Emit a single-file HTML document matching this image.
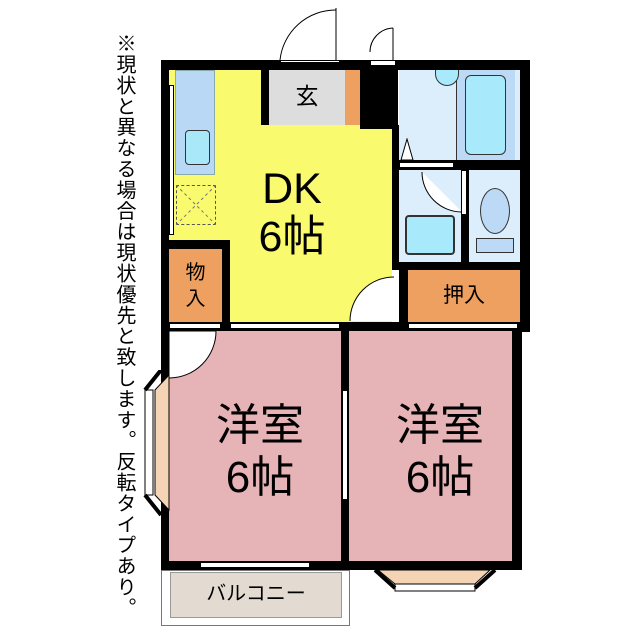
<!DOCTYPE html>
<html><head><meta charset="utf-8"><style>
body{margin:0;width:640px;height:640px;background:#fff;position:relative;overflow:hidden;font-family:"Liberation Sans","Noto Sans CJK JP",sans-serif}
div{position:absolute;box-sizing:border-box}
.b{background:#000}
.t{color:#000;text-align:center;line-height:1}
</style></head><body>
<div class="t" style="left:111px;top:33px;width:26px;height:590px;writing-mode:vertical-rl;font-size:20px;line-height:26px;letter-spacing:0.9px;text-align:left">※現状と異なる場合は現状優先と致します。反転タイプあり。</div>

<!-- outer walls -->
<div class="b" style="left:161px;top:60px;width:369px;height:10px"></div>
<div class="b" style="left:161px;top:60px;width:8px;height:510px"></div>
<div class="b" style="left:520px;top:60px;width:10px;height:272px"></div>
<div class="b" style="left:512px;top:320px;width:10px;height:250px"></div>
<div class="b" style="left:161px;top:561px;width:361px;height:9px"></div>

<!-- kitchen / DK -->
<div style="left:169px;top:70px;width:223px;height:253px;background:#fafa6e"></div>
<div style="left:169px;top:85px;width:5px;height:150px;background:#fff;border:1px solid #000"></div>
<div style="left:175px;top:70px;width:40px;height:105px;background:#b8d8f5;border:1px solid #8aa"></div>
<div style="left:185px;top:130px;width:25px;height:35px;background:#a8e8f8;border:1px solid #333;border-radius:4px"></div>
<div style="left:176px;top:185px;width:40px;height:40px;border:1px dashed #555"></div>
<svg style="position:absolute;left:176px;top:185px" width="40" height="40"><path d="M0 0L40 40M40 0L0 40" stroke="#777" stroke-dasharray="3 3"/></svg>
<div class="t" style="left:232px;top:168px;width:120px;font-size:43px">DK</div>
<div class="t" style="left:232px;top:216px;width:120px;font-size:43px">6帖</div>

<!-- genkan -->
<div class="b" style="left:261px;top:70px;width:8px;height:55px"></div>
<div style="left:269px;top:70px;width:76px;height:55px;background:#ddd"></div>
<div class="t" style="left:269px;top:85px;width:76px;font-size:23px">玄</div>
<div style="left:345px;top:70px;width:15px;height:55px;background:#eea060"></div>
<div class="b" style="left:360px;top:60px;width:38px;height:69px"></div>
<div class="b" style="left:392px;top:125px;width:7px;height:145px"></div>
<!-- doors top -->
<div style="left:280px;top:60px;width:60px;height:3px;background:#fff;border:1px solid #000"></div>
<svg style="position:absolute;left:278px;top:8px" width="120" height="56"><path d="M58 2A56 56 0 0 0 2 52" fill="none" stroke="#000"/><line x1="58" y1="0" x2="58" y2="52" stroke="#000"/><path d="M115 20A24 24 0 0 0 92 44" fill="none" stroke="#000"/><line x1="115" y1="20" x2="115" y2="52" stroke="#000"/></svg>
<div style="left:370px;top:60px;width:26px;height:6px;background:#fff;border:1px solid #000"></div>

<!-- bath -->
<div style="left:399px;top:70px;width:121px;height:90px;background:#dcedfc"></div>
<div style="left:456px;top:70px;width:59px;height:90px;background:#bcd9f5;border-left:1px solid #333"></div>
<div style="left:465px;top:75px;width:41px;height:80px;background:#a8eafc;border:1px solid #333;border-radius:6px"></div>
<div style="left:435px;top:70px;width:24px;height:16px;border:1px solid #333;border-top:none;border-radius:0 0 12px 12px;background:#a8eafc"></div>
<div class="b" style="left:399px;top:160px;width:121px;height:10px"></div>
<div style="left:399px;top:162px;width:55px;height:6px;background:#fff;border:1px solid #000"></div>
<svg style="position:absolute;left:399px;top:138px" width="16" height="24"><path d="M8 1L14 22L2 22Z" fill="#fff" stroke="#000"/></svg>
<!-- wash -->
<div style="left:399px;top:170px;width:62px;height:92px;background:#dcedfc"></div>
<div style="left:405px;top:215px;width:50px;height:40px;background:#a8eafc;border:2px solid #333;border-radius:4px"></div>
<svg style="position:absolute;left:420px;top:170px" width="45" height="45"><path d="M2 2A40 40 0 0 0 42 42" fill="#fff" stroke="#000"/></svg>
<div class="b" style="left:461px;top:170px;width:8px;height:92px"></div>
<div style="left:461px;top:170px;width:6px;height:45px;background:#fff;border:1px solid #000"></div>
<div style="left:469px;top:170px;width:51px;height:92px;background:#dcedfc"></div>
<div style="left:480px;top:188px;width:30px;height:46px;background:#bcd9f5;border:1px solid #333;border-radius:50%"></div>
<div style="left:476px;top:238px;width:38px;height:15px;background:#bcd9f5;border:1px solid #333"></div>
<div class="b" style="left:399px;top:262px;width:121px;height:8px"></div>
<!-- oshiire -->
<div class="b" style="left:399px;top:262px;width:9px;height:68px"></div>
<div style="left:408px;top:270px;width:112px;height:52px;background:#eea060"></div>
<div class="t" style="left:408px;top:285px;width:112px;font-size:21px">押入</div>
<svg style="position:absolute;left:348px;top:275px" width="52" height="52"><path d="M46 2A44 44 0 0 0 2 46L46 46Z" fill="#fff"/><path d="M46 2A44 44 0 0 0 2 46" fill="none" stroke="#000"/></svg>

<!-- monoire -->
<div class="b" style="left:161px;top:240px;width:69px;height:9px"></div>
<div class="b" style="left:222px;top:240px;width:8px;height:90px"></div>
<div style="left:169px;top:249px;width:53px;height:73px;background:#eea060"></div>
<div class="t" style="left:169px;top:260px;width:53px;font-size:20px;line-height:26px">物<br>入</div>

<!-- horizontal partition -->
<div class="b" style="left:161px;top:322px;width:361px;height:9px"></div>
<div style="left:230px;top:323px;width:110px;height:6px;background:#fff;border:1px solid #000"></div>
<div style="left:408px;top:323px;width:110px;height:6px;background:#fff;border:1px solid #000"></div>
<div style="left:169px;top:323px;width:52px;height:6px;background:#fff;border:1px solid #000"></div>

<!-- rooms -->
<div style="left:169px;top:331px;width:172px;height:230px;background:#e6b4b6"></div>
<div style="left:349px;top:331px;width:163px;height:230px;background:#e6b4b6"></div>
<svg style="position:absolute;left:169px;top:331px" width="52" height="50"><path d="M0 47A47 47 0 0 0 47 0L0 0Z" fill="#fff" stroke="#000"/></svg>
<div class="b" style="left:341px;top:322px;width:8px;height:248px"></div>
<div style="left:342px;top:390px;width:6px;height:110px;background:#fff;border:1px solid #000"></div>
<div class="t" style="left:190px;top:400px;width:140px;font-size:44px;line-height:52px">洋室<br>6帖</div>
<div class="t" style="left:370px;top:400px;width:140px;font-size:44px;line-height:52px">洋室<br>6帖</div>

<!-- left bay -->
<svg style="position:absolute;left:140px;top:370px" width="32" height="150"><path d="M29 5L15 20L15 125L29 140Z" fill="#f4d4b4" stroke="#000"/><rect x="5" y="20" width="8" height="105" fill="#fff" stroke="#000"/><path d="M21 0L5 20M21 145L5 125" stroke="#000" stroke-width="4"/></svg>
<!-- right bay -->
<svg style="position:absolute;left:370px;top:566px" width="140" height="30"><path d="M8 4L120 4L105 18L25 18Z" fill="#f4d4b4" stroke="#000"/><rect x="25" y="18" width="80" height="7" fill="#fff" stroke="#000"/><path d="M5 4L25 22M125 4L105 22" stroke="#000" stroke-width="4"/></svg>
<div style="left:200px;top:562px;width:110px;height:6px;background:#fff;border:1px solid #000"></div>

<!-- balcony -->
<div style="left:161px;top:570px;width:189px;height:56px;border:1px solid #777;background:#fff"></div>
<div style="left:170px;top:572px;width:172px;height:46px;background:#e3dad2;border:1px solid #999"></div>
<div class="t" style="left:170px;top:584px;width:172px;font-size:20px">バルコニー</div>
</body></html>
